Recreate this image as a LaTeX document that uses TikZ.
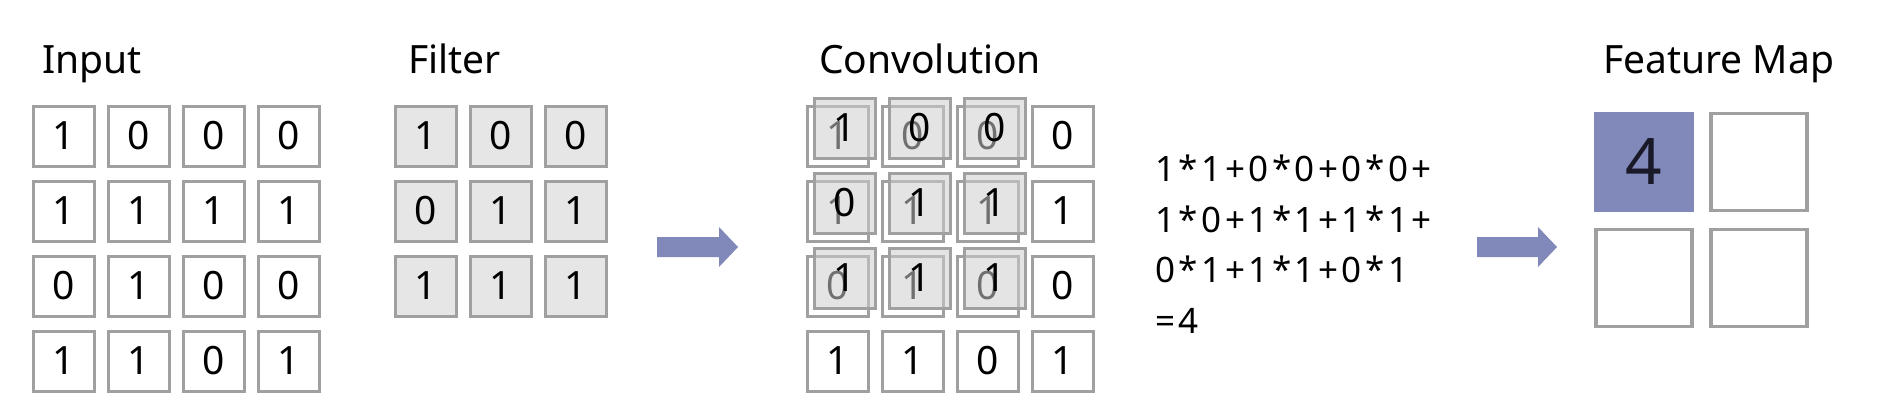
\documentclass[tikz,border=0pt]{standalone}
\usepackage{fontspec}
\setmainfont{Noto Sans}
\definecolor{boxgray}{RGB}{160,160,160}
\definecolor{fillgray}{RGB}{230,230,230}
\definecolor{ovgray}{RGB}{205,205,205}
\definecolor{arrowblue}{RGB}{128,137,185}
\definecolor{digitdark}{RGB}{25,25,40}
\begin{document}
\begin{tikzpicture}[x=1pt,y=-1pt,
  cell/.style={draw=boxgray, line width=3pt, minimum width=61pt, minimum height=60pt, inner sep=0pt, font=\fontsize{39}{47}\selectfont},
  fcell/.style={cell, fill=fillgray},
  ocell/.style={cell, fill=ovgray, fill opacity=0.55, draw opacity=1, text opacity=1},
  title/.style={anchor=base west, inner sep=0pt, font=\fontsize{39}{47}\selectfont},
  formula/.style={anchor=base west, inner sep=0pt, font=\fontsize{35}{42}\selectfont\addfontfeature{LetterSpace=10}},
  fmcell/.style={draw=boxgray, line width=3.5pt, minimum width=96pt, minimum height=97pt, inner sep=0pt},
  blockarrow/.style={fill=arrowblue}
]
\useasboundingbox (0,0) rectangle (1900,413);

% titles
\node[title] (tin) at (42,73) {Input};
\node[title] (tfl) at (408,73) {Filter};
\node[title] (tcv) at (819,73) {Convolution};
\node[title] (tfm) at (1603,73) {Feature Map};

% input grid and convolution base grid
\foreach \vals [count=\r] in {{1,0,0,0},{1,1,1,1},{0,1,0,0},{1,1,0,1}} {
  \foreach \v [count=\c] in \vals {
    \node[cell] (in-\r-\c) at ({64+75*(\c-1)},{136+75*(\r-1)}) {\v};
    \node[cell] (cv-\r-\c) at ({838+75*(\c-1)},{136+75*(\r-1)}) {\v};
  }
}

% filter grid and overlay
\foreach \vals [count=\r] in {{1,0,0},{0,1,1},{1,1,1}} {
  \foreach \v [count=\c] in \vals {
    \node[fcell] (fl-\r-\c) at ({426+75*(\c-1)},{136+75*(\r-1)}) {\v};
    \node[ocell] (ov-\r-\c) at ({845+75*(\c-1)},{128+75*(\r-1)}) {\v};
  }
}

% block arrows
\fill[blockarrow] (657,237) -- (719,237) -- (719,227) -- (738,247) -- (719,267) -- (719,257) -- (657,257) -- cycle;
\fill[blockarrow] (1477,237) -- (1538,237) -- (1538,227) -- (1557,247) -- (1538,267) -- (1538,257) -- (1477,257) -- cycle;

% formula
\node[formula] (f1) at (1155,181) {1*1+0*0+0*0+};
\node[formula] (f2) at (1155,232) {1*0+1*1+1*1+};
\node[formula] (f3) at (1155,282) {0*1+1*1+0*1};
\node[formula] (f4) at (1155,333) {=4};

% feature map
\node[fmcell, fill=arrowblue, draw=arrowblue, text=digitdark, font=\fontsize{64}{70}\selectfont] (fm-1-1) at (1644,162) {4};
\node[fmcell] (fm-1-2) at (1759,162) {};
\node[fmcell] (fm-2-1) at (1644,278) {};
\node[fmcell] (fm-2-2) at (1759,278) {};
\end{tikzpicture}
\end{document}
